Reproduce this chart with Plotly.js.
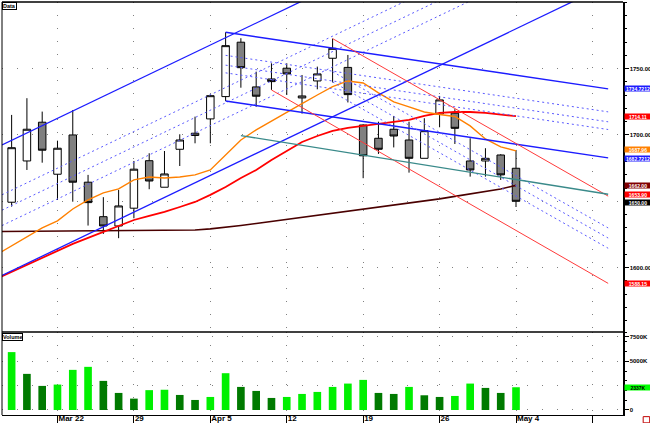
<!DOCTYPE html>
<html><head><meta charset="utf-8">
<script src="https://cdn.plot.ly/plotly-3.0.1.min.js"></script>
<style>html,body{margin:0;padding:0;background:#fff}#chart{width:650px;height:423px}</style>
</head><body><div id="chart"></div>
<script>
// ---- data ----
const tickIdx = [3, 8, 13, 18, 23, 28, 33, 38];
const tickLabels = ['Mar 22', '29', 'Apr 5', '12', '19', '26', 'May 4', ''];
const priceTicks = [1600, 1650, 1700, 1750];
const priceTickLabels = ['1600.00', '', '1700.00', '1750.00'];   // 1650 is hidden under the last-close box
const volumeTicks = [0, 2500, 5000, 7500];
const volumeTickLabels = ['0', '', '5000K', '7500K'];

const barIdx = [0,1,2,3,4,5,6,7,8,9,10,11,12,13,14,15,16,17,18,19,20,21,22,23,24,25,26,27,28,29,30,31,32,33];
const open  = [1649.3,1680.4,1709.6,1670.4,1700.0,1664.4,1638.4,1631.4,1644.8,1680.6,1660.6,1689.2,1699.6,1712.1,1728.9,1769.9,1736.2,1742.2,1750.3,1727.9,1740.7,1757.8,1750.9,1707.5,1697.5,1704.3,1696.2,1682.4,1715.8,1716.4,1680.4,1680.4,1684.9,1674.9];
const high  = [1715.1,1727.7,1717.6,1695.7,1718.8,1669.9,1653.1,1658.6,1680.4,1686.2,1687.9,1700.5,1713.8,1730.5,1777.4,1772.9,1747.7,1754.0,1754.0,1745.2,1751.5,1772.6,1760.3,1708.0,1710.0,1714.3,1710.0,1712.6,1729.4,1719.4,1697.5,1690.0,1685.5,1688.7];
const low   = [1646.0,1673.6,1679.1,1651.0,1649.7,1631.7,1625.4,1622.2,1637.2,1659.1,1660.6,1676.6,1693.7,1693.7,1725.6,1735.6,1721.3,1733.9,1730.1,1716.1,1734.4,1739.6,1724.5,1667.4,1685.7,1690.6,1671.6,1682.4,1705.8,1693.2,1668.6,1668.6,1666.1,1645.7];
const close = [1690.4,1704.3,1688.5,1690.0,1664.4,1649.0,1631.4,1646.5,1674.2,1665.3,1670.6,1696.2,1701.3,1729.6,1767.3,1750.7,1729.2,1740.2,1746.0,1729.4,1746.0,1765.3,1730.4,1684.3,1689.2,1699.2,1682.4,1703.2,1726.4,1705.0,1673.6,1682.4,1669.9,1650.0];
const volumeK = [5948,3711,2474,2612,4124,4433,2990,1753,1168,2040,2080,1546,1031,1340,3780,2371,1959,1237,1340,1649,1856,2371,2715,3093,1753,1649,2371,1512,1340,1443,2715,2268,1753,2337];

// moving averages (one value per bar, starting one bar before the first candle)
const maIdx = [-1,0,1,2,3,4,5,6,7,8,9,10,11,12,13,14,15,16,17,18,19,20,21,22,23,24,25,26,27,28,29,30,31,32,33];
const maFast = [1609.6,1616.4,1623.1,1630.0,1635.3,1644.2,1651.0,1656.3,1659.3,1666.1,1668.3,1667.6,1668.3,1669.9,1673.6,1684.9,1696.2,1703.8,1710.6,1716.8,1723.6,1730.1,1736.5,1740.7,1739.2,1731.7,1724.9,1721.1,1717.3,1715.4,1713.9,1706.8,1697.0,1691.0,1687.96];
const maMid  = [1591.5,1596.8,1602.0,1607.3,1612.6,1617.9,1622.4,1626.9,1631.4,1635.9,1639.0,1642.0,1645.7,1649.5,1654.8,1660.8,1667.6,1673.6,1681.2,1687.9,1694.7,1699.2,1703.0,1705.3,1706.8,1708.3,1709.8,1711.3,1714.3,1716.6,1717.3,1717.3,1716.6,1715.4,1714.11];
const maSlow = [1627.2,1627.3,1627.4,1627.4,1627.5,1627.6,1627.7,1627.7,1627.8,1627.9,1628.0,1628.0,1628.2,1628.4,1629.2,1630.3,1631.8,1633.3,1634.8,1636.3,1637.8,1639.7,1641.2,1642.7,1644.2,1645.7,1647.2,1648.8,1650.3,1651.8,1653.7,1655.5,1657.4,1659.3,1662.00];

// trend lines: [start, end] in bar index / price
const upChanIdx = [-0.63, 40.0];
const upChanTop = [1692.4, 1917.0];
const upChanBottom = [1594.1, 1818.7];
const upFib382 = [1654.9, 1879.5];
const upFib500 = [1643.3, 1867.9];
const upFib618 = [1631.7, 1856.3];

const dnChanIdx = [14, 39.03];
const dnChanTop = [1777.4, 1734.72];
const dnChanBottom = [1725.6, 1682.72];
const dnFib382 = [1760.0, 1717.4];
const dnFib500 = [1752.6, 1709.9];
const dnFib618 = [1746.8, 1704.1];

const redTopIdx = [21, 39.03];
const redTop = [1772.6, 1653.90];
const redBottomIdx = [17, 39.03];
const redBottom = [1733.9, 1588.15];
const redFibIdx = [21, 39.03];
const redFib382 = [1747.7, 1629.9];
const redFib500 = [1740.0, 1622.3];
const redFib618 = [1732.3, 1614.6];

const tealIdx = [15, 39.03];
const tealLine = [1699.5, 1655.3];

// right-hand value labels
const valueLabels = ['1734.7212', '1714.11', '1687.96', '1682.7212', '1662.00', '1653.90', '1650.00', '1588.15'];
const valueLevels = [1734.72, 1714.11, 1687.96, 1682.72, 1662.00, 1653.90, 1650.00, 1588.15];
const lastVolumeLabel = '2337K';
const lastVolume = 2337;

// ---- styling ----
const BLUE = '#1c1cff', LBLUE = '#5a5aff', RED = '#ff0000', LRED = '#ff3a3a';
const labelColors = [BLUE, RED, '#ff8000', BLUE, '#800000', RED, '#000000', RED];
const labelNudge = [0, 0, 1, -1, 0, 1.2, -1.2, 0];
const FONT = 'Liberation Sans, Arial, sans-serif';

const traces = [];
traces.push({
  type: 'candlestick', x: barIdx, open: open, high: high, low: low, close: close,
  xaxis: 'x', yaxis: 'y', hoverinfo: 'skip', whiskerwidth: 0,
  increasing: {line: {color: '#000', width: 1}, fillcolor: '#ffffff'},
  decreasing: {line: {color: '#000', width: 1}, fillcolor: '#808080'}
});

function line(xs, ys, color, width, dash) {
  traces.push({type: 'scatter', mode: 'lines', x: xs, y: ys, xaxis: 'x', yaxis: 'y',
    hoverinfo: 'skip', line: {color: color, width: width, dash: dash || 'solid'}});
}
line(maIdx, maSlow, '#4a0000', 1.6);
line(maIdx, maMid, RED, 1.8);
line(maIdx, maFast, '#ff8000', 1.4);

line(upChanIdx, upChanTop, BLUE, 1.3);
line(upChanIdx, upChanBottom, BLUE, 1.3);
[upFib382, upFib500, upFib618].forEach(v => line(upChanIdx, v, LBLUE, 1, '2px,3px'));
line(dnChanIdx, dnChanTop, BLUE, 1.5);
line(dnChanIdx, dnChanBottom, BLUE, 1.5);
[dnFib382, dnFib500, dnFib618].forEach(v => line(dnChanIdx, v, LBLUE, 1, '2px,3px'));
line(redTopIdx, redTop, LRED, 1);
line(redBottomIdx, redBottom, LRED, 1);
[redFib382, redFib500, redFib618].forEach(v => line(redFibIdx, v, LBLUE, 1, '2px,3px'));
line(tealIdx, tealLine, '#3a8a8a', 1.3);

const volColors = volumeK.map((v, i) => (i === 0 || v >= volumeK[i - 1]) ? '#00f000' : '#007a00');
traces.push({type: 'bar', x: barIdx, y: volumeK, xaxis: 'x', yaxis: 'y2', width: 0.5,
  marker: {color: volColors, line: {width: 0}}, hoverinfo: 'skip'});

const smallFont = {family: FONT, size: 6, color: '#000', weight: 'bold'};
const annotations = valueLabels.map((t, i) => ({
  xref: 'paper', yref: 'y', x: 1, y: valueLevels[i], xanchor: 'left', yanchor: 'middle', xshift: 1,
  yshift: labelNudge[i],
  text: t, showarrow: false, bgcolor: labelColors[i], width: 26, height: 5, borderpad: 0,
  font: {family: FONT, size: 5, color: '#fff', weight: 'bold'}
}));
annotations.push({xref: 'paper', yref: 'y2', x: 1, y: lastVolume, xanchor: 'left', yanchor: 'middle', xshift: 1,
  text: lastVolumeLabel, showarrow: false, bgcolor: '#00ff00', width: 26, height: 5, borderpad: 0,
  font: {family: FONT, size: 5, color: '#000', weight: 'bold'}});
annotations.push({xref: 'paper', yref: 'paper', x: 0, y: 1, xanchor: 'left', yanchor: 'top',
  text: 'Data', showarrow: false, bgcolor: '#fff', bordercolor: '#000', borderwidth: 1, borderpad: 0,
  font: {family: FONT, size: 5.5, color: '#000', weight: 'bold'}});
annotations.push({xref: 'paper', yref: 'paper', x: 0, y: 0.199, xanchor: 'left', yanchor: 'top',
  text: 'Volume', showarrow: false, bgcolor: '#fff', bordercolor: '#000', borderwidth: 1, borderpad: 0,
  font: {family: FONT, size: 5.5, color: '#000', weight: 'bold'}});

const layout = {
  width: 650, height: 423,
  margin: {l: 2, r: 27, t: 2, b: 8, pad: 0},
  paper_bgcolor: '#ffffff', plot_bgcolor: '#ffffff', showlegend: false,
  font: {family: FONT, size: 7, color: '#000'},
  xaxis: {range: [-0.63, 40.0], anchor: 'y2', fixedrange: true, rangeslider: {visible: false},
    tickmode: 'array', tickvals: tickIdx, ticktext: tickLabels,
    ticks: 'outside', ticklen: 7, tickcolor: '#000', tickwidth: 1,
    ticklabelposition: 'outside right', ticklabelstandoff: -5,
    tickfont: {family: FONT, size: 8, color: '#000', weight: 'bold'},
    showgrid: true, gridcolor: '#808080', gridwidth: 1, griddash: '1px,12px',
    showline: true, linecolor: '#000', linewidth: 1, zeroline: false},
  yaxis: {domain: [0.201, 1], range: [1551.5, 1800.2], anchor: 'x', side: 'right', fixedrange: true,
    tickmode: 'array', tickvals: priceTicks, ticktext: priceTickLabels,
    ticks: 'outside', ticklen: 4, tickcolor: '#000', tickfont: smallFont,
    minor: {dtick: 10, tick0: 1600, ticks: 'outside', ticklen: 2, tickcolor: '#000', showgrid: false},
    showgrid: true, gridcolor: '#808080', gridwidth: 1, griddash: '1px,14px',
    showline: true, linecolor: '#000', linewidth: 1.5, zeroline: false},
  yaxis2: {domain: [0, 0.201], range: [-515, 8015], anchor: 'x', side: 'right', fixedrange: true,
    tickmode: 'array', tickvals: volumeTicks, ticktext: volumeTickLabels,
    ticks: 'outside', ticklen: 4, tickcolor: '#000', tickfont: smallFont,
    minor: {dtick: 1000, tick0: 0, ticks: 'outside', ticklen: 2, tickcolor: '#000', showgrid: false},
    showgrid: true, gridcolor: '#808080', gridwidth: 1, griddash: '1px,14px',
    showline: true, linecolor: '#000', linewidth: 1.5, zeroline: false},
  shapes: [
    {type: 'line', xref: 'paper', yref: 'paper', x0: 0, x1: 1, y0: 0.201, y1: 0.201, line: {color: '#000', width: 1.5}},
    {type: 'line', xref: 'paper', yref: 'paper', x0: 0, x1: 1, y0: 1, y1: 1, line: {color: '#000', width: 1.5}},
    {type: 'line', xref: 'paper', yref: 'paper', x0: 0, x1: 0, y0: 0, y1: 1, line: {color: '#000', width: 1}},
    {type: 'rect', xref: 'paper', yref: 'paper', x0: 1.0325, x1: 1.043, y0: -0.004, y1: -0.019, line: {color: '#c00000', width: 1}, fillcolor: '#ffffff'}
  ],
  annotations: annotations
};

Plotly.newPlot('chart', traces, layout, {displayModeBar: false, staticPlot: true});
</script></body></html>
